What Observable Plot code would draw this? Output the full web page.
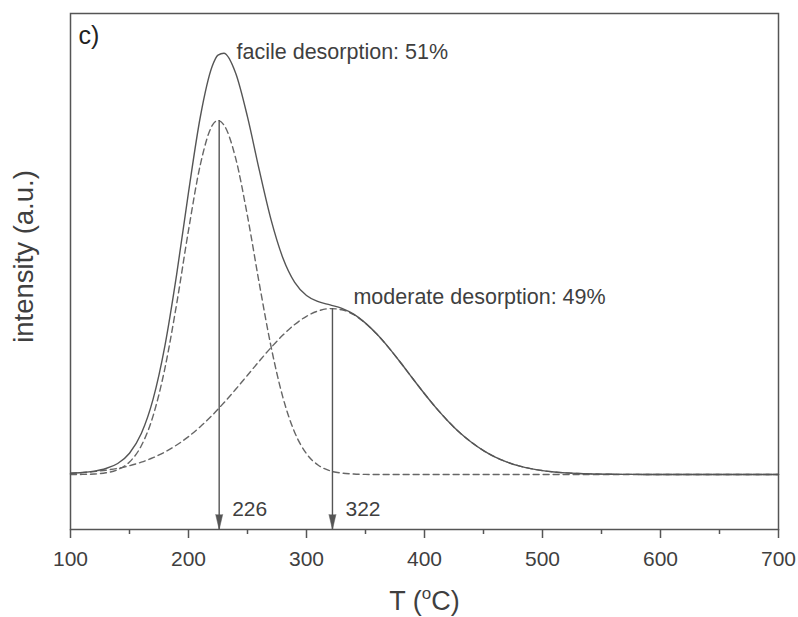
<!DOCTYPE html>
<html><head><meta charset="utf-8">
<script src="https://cdn.jsdelivr.net/npm/d3@7"></script>
<script src="https://cdn.jsdelivr.net/npm/@observablehq/plot@0.6"></script>
<style>body{margin:0;background:#fff} svg{display:block}</style>
</head><body><div id="chart"></div>
<script>
// Temperature grid (°C)
const temps = [100,110,120,130,140,150,160,170,180,190,200,210,220,225,230,240,250,260,270,280,290,300,310,320,330,340,350,360,370,380,390,400,410,420,430,440,450,460,470,480,490,500,510,520,530,540,550,560,570,580,590,600,610,620,630,640,650,660,670,680,690,700];
// Measured TPD signal (solid)
const total = [1.3,2.0,3.4,6.0,11.0,21.3,41.0,75.4,128.7,200.4,282.1,357.5,407.9,419.3,421.3,401.3,357.6,304.3,254.6,216.5,192.1,179.0,172.9,169.6,166.1,160.3,151.4,139.9,126.4,111.5,96.0,80.8,66.4,53.3,41.7,32.0,23.9,17.4,12.4,8.7,5.9,3.9,2.5,1.6,1.0,0.6,0.4,0.2,0.1,0.1,0,0,0,0,0,0,0,0,0,0,0,0];
// Facile desorption component (dashed)
const facile = [0.0,0.1,0.5,1.7,4.8,12.5,28.7,58.6,106.2,170.9,244.2,309.7,348.8,354.0,349.6,316.1,258.3,190.9,127.6,77.1,42.1,20.8,9.3,3.7,1.4,0.5,0.1,0,0,0,0,0,0,0,0,0,0,0,0,0,0,0,0,0,0,0,0,0,0,0,0,0,0,0,0,0,0,0,0,0,0,0];
// Moderate desorption component (dashed)
const moderate = [1.3,1.9,2.9,4.3,6.2,8.8,12.3,16.8,22.5,29.5,37.9,47.8,59.1,65.3,71.7,85.2,99.3,113.4,127.0,139.4,150.0,158.2,163.6,165.9,164.7,159.8,151.3,139.9,126.4,111.5,96.0,80.8,66.4,53.3,41.7,32.0,23.9,17.4,12.4,8.7,5.9,3.9,2.5,1.6,1.0,0.6,0.4,0.2,0.1,0.1,0,0,0,0,0,0,0,0,0,0,0,0];

const xTicks = [100,200,300,400,500,600,700];
const xMinorTicks = [150,250,350,450,550,650];
const xDomain = [100, 700];
const yDomain = [-55, 461];

const peakTemps = [226, 322];
const peakTops = [354, 166];
const peakLabels = ["226", "322"];

const facileLabel = ["facile desorption: 51%"];
const facileAnchor = {T: 228, I: 421.3};
const moderateLabel = ["moderate desorption: 49%"];
const moderateAnchor = {T: 322, I: 166};

const panelLabel = ["c)"];
const yLabel = ["intensity (a.u.)"];
const xLabelParts = ["T (", "o", "C)"];

const ink = "#555";
const textInk = "#3f3f3f";

const plot = Plot.plot({
  width: 798, height: 617,
  marginLeft: 70, marginRight: 20, marginTop: 13, marginBottom: 88,
  x: {domain: xDomain},
  y: {domain: yDomain, axis: null},
  style: {fontFamily: "'Liberation Sans', Arial, sans-serif", background: "white", color: textInk},
  marks: [
    Plot.line(temps, {x: temps, y: moderate, stroke: "#666", strokeWidth: 1.4, strokeDasharray: "6,4", curve: "monotone-x"}),
    Plot.line(temps, {x: temps, y: facile, stroke: "#666", strokeWidth: 1.4, strokeDasharray: "6,4", curve: "monotone-x"}),
    Plot.line(temps, {x: temps, y: total, stroke: ink, strokeWidth: 1.4, curve: "monotone-x"}),
    Plot.ruleX(peakTemps, {x: d => d, y1: (d, i) => peakTops[i], y2: () => yDomain[0], stroke: ink, strokeWidth: 1.4}),
    Plot.vector(peakTemps, {x: d => d, frameAnchor: "bottom", rotate: 180, length: 15, r: 3.5, shape: "spike", anchor: "end", fill: ink, fillOpacity: 1, stroke: ink, strokeWidth: 0.5}),
    Plot.text(peakTemps, {x: d => d, text: (d, i) => peakLabels[i], frameAnchor: "bottom", dy: -20, dx: 13, textAnchor: "start", lineAnchor: "middle", fontSize: 21, fill: textInk}),
    Plot.text(facileLabel, {x: () => facileAnchor.T, y: () => facileAnchor.I, text: d => d, dx: 15, dy: -1, textAnchor: "start", lineAnchor: "middle", fontSize: 21.5, fill: textInk}),
    Plot.text(moderateLabel, {x: () => moderateAnchor.T, y: () => moderateAnchor.I, text: d => d, dx: 21, dy: -11, textAnchor: "start", lineAnchor: "middle", fontSize: 21.5, fill: textInk}),
    Plot.text(panelLabel, {text: d => d, frameAnchor: "top-left", dx: 8, dy: 22, textAnchor: "start", lineAnchor: "middle", fontSize: 25, fill: "#222"}),
    Plot.text(yLabel, {text: d => d, frameAnchor: "left", dx: -46, dy: -15, rotate: -90, textAnchor: "middle", lineAnchor: "middle", fontSize: 27.5, fill: textInk}),
    Plot.text([xLabelParts.join("")], {text: d => d, frameAnchor: "bottom", dy: 72, textAnchor: "middle", lineAnchor: "middle", fontSize: 27, fill: textInk}),
    Plot.axisX(xTicks, {tickSize: 9, tickPadding: 13, fontSize: 21, label: null, stroke: ink, strokeWidth: 1.5, fill: textInk}),
    Plot.axisX(xMinorTicks, {tickSize: 5, label: null, fill: "none", stroke: ink, strokeWidth: 1.5}),
    Plot.frame({stroke: ink, strokeWidth: 1.5})
  ]
});

d3.select(plot).selectAll("text").filter(function() { return this.textContent === xLabelParts.join(""); }).each(function() {
  const t = d3.select(this);
  t.text(null);
  t.append("tspan").text(xLabelParts[0]);
  t.append("tspan").attr("font-size", 17).attr("dy", -11).text(xLabelParts[1]);
  t.append("tspan").attr("dy", 11).text(xLabelParts[2]);
});

document.getElementById("chart").appendChild(plot);
</script>
</body></html>
